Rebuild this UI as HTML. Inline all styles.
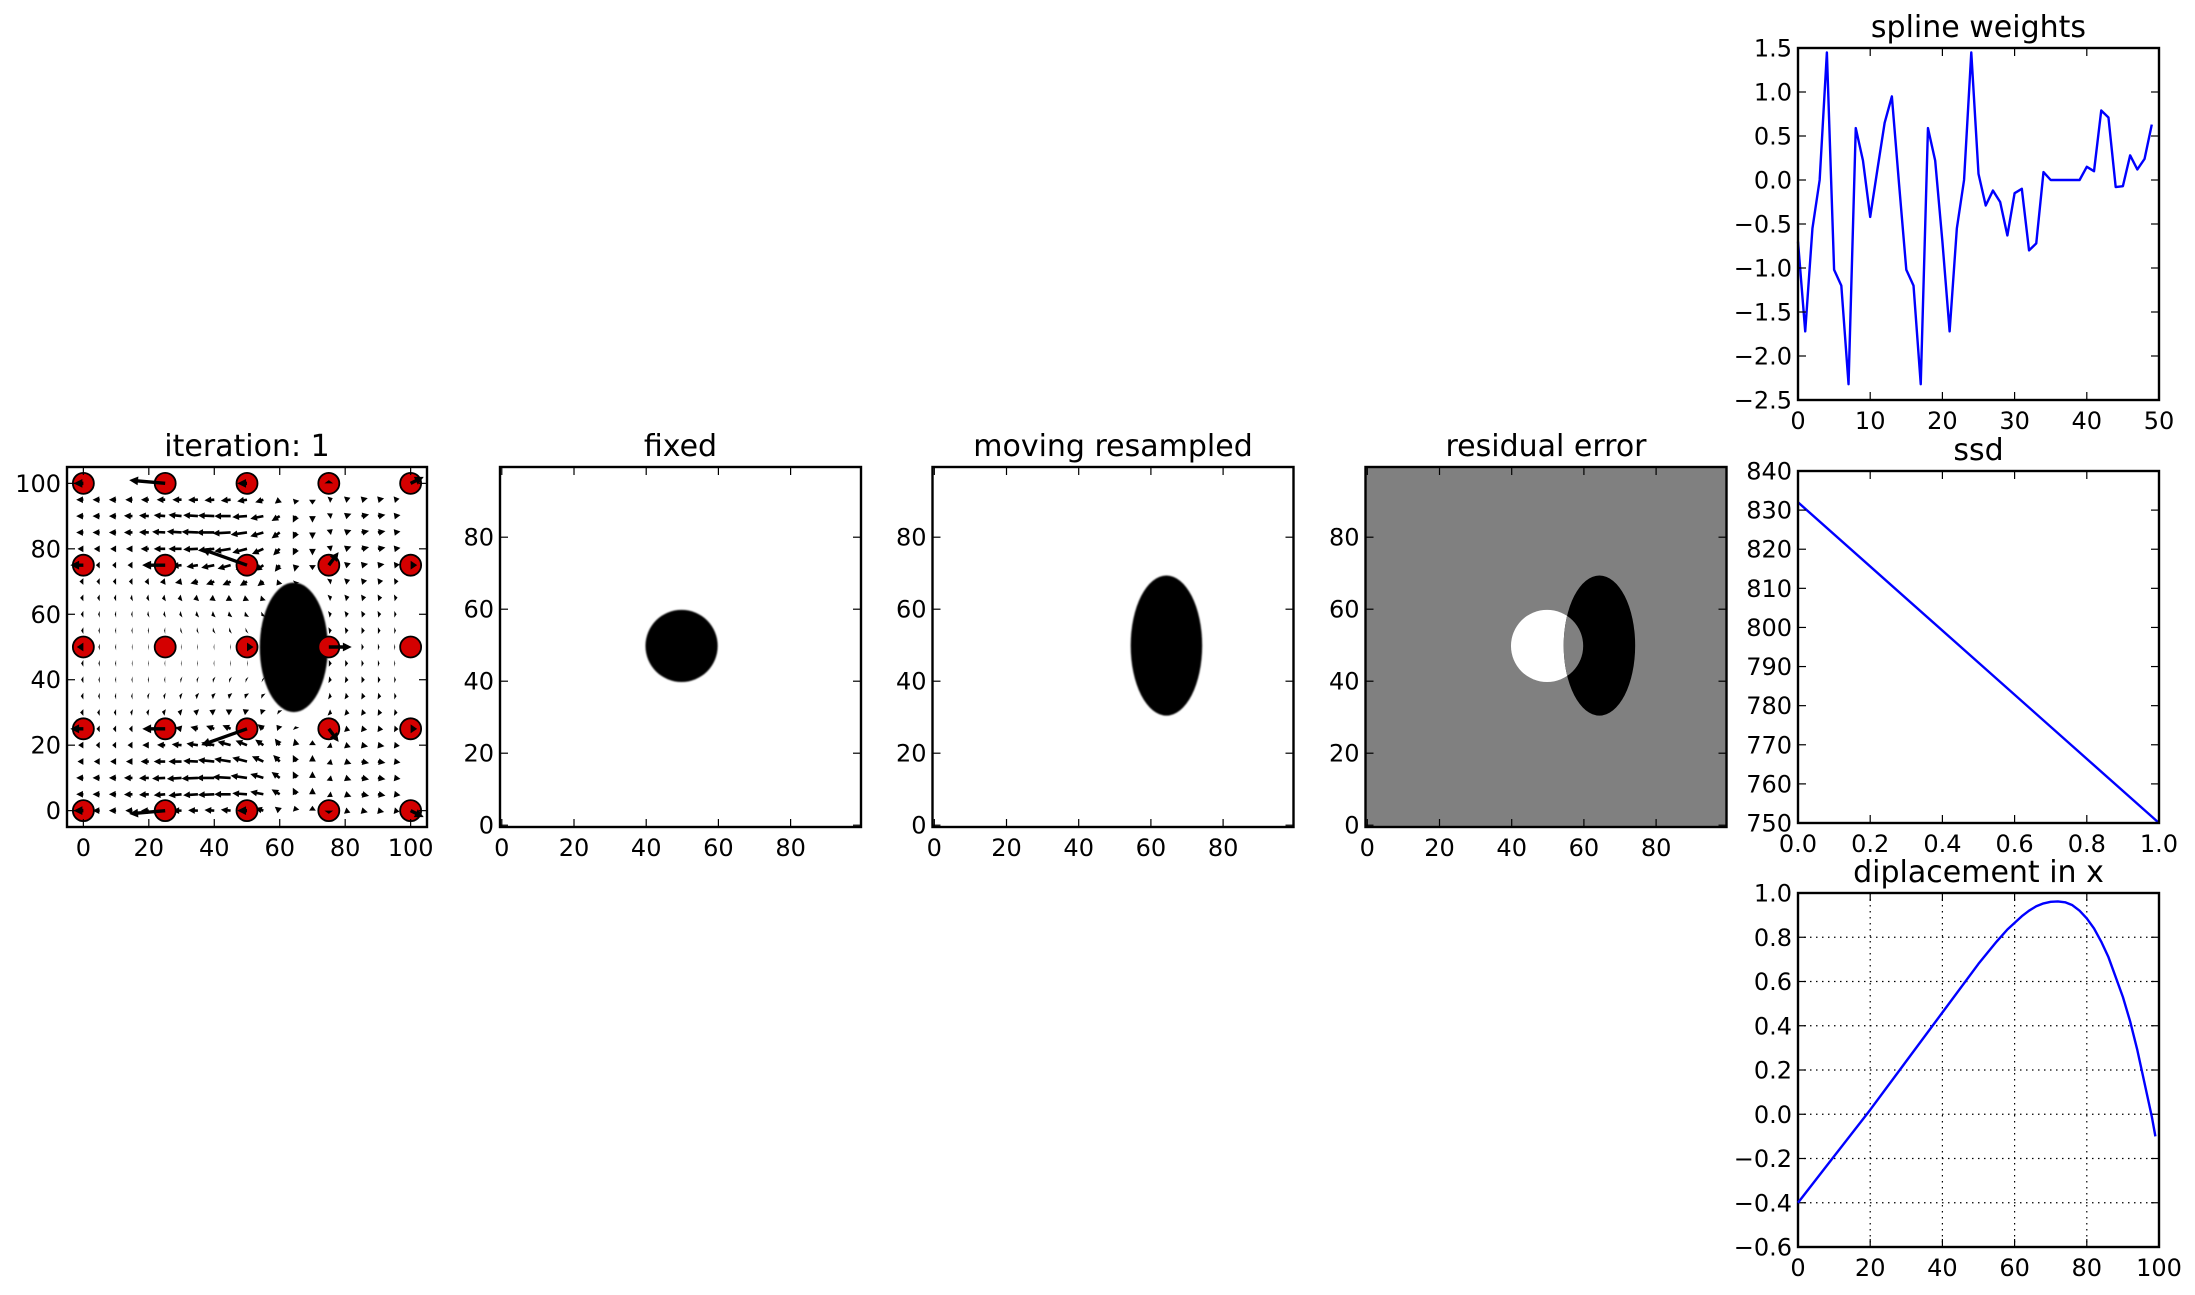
<!DOCTYPE html>
<html><head><meta charset="utf-8"><style>
html,body{margin:0;padding:0;background:#fff;}
svg{display:block;font-family:"DejaVu Sans","Liberation Sans",sans-serif;}
</style></head><body>
<svg id="fig" width="2195" height="1295" viewBox="0 0 2195 1295" xmlns="http://www.w3.org/2000/svg">
<rect width="2195" height="1295" fill="#fff"/>
<defs>
<clipPath id="clipIter"><rect x="67" y="467" width="360" height="360"/></clipPath>
<clipPath id="clipEll"><ellipse id="ellClipShape" cx="0" cy="0" rx="1" ry="1"/></clipPath>
<filter id="soft" x="-10%" y="-10%" width="120%" height="120%"><feGaussianBlur stdDeviation="0.9"/></filter>
</defs>
</svg>
<script>
// ---- spline weights data ----
const splineWeights = [-0.7,-1.72,-0.55,0.0,1.45,-1.02,-1.2,-2.32,0.59,0.22,-0.42,0.12,0.65,0.95,-0.05,-1.02,-1.2,-2.32,0.59,0.22,-0.7,-1.72,-0.55,0.0,1.45,0.07,-0.29,-0.12,-0.25,-0.63,-0.15,-0.1,-0.8,-0.72,0.09,0.0,0.0,0.0,0.0,0.0,0.15,0.1,0.79,0.71,-0.08,-0.07,0.28,0.12,0.24,0.63];
const splineXTicks = [0,10,20,30,40,50];
const splineYTicks = [-2.5,-2.0,-1.5,-1.0,-0.5,0.0,0.5,1.0,1.5];
// ---- ssd data ----
const ssdX = [0,1];
const ssdValues = [832,750];
const ssdXTicks = [0.0,0.2,0.4,0.6,0.8,1.0];
const ssdYTicks = [750,760,770,780,790,800,810,820,830,840];
// ---- displacement data ----
const dispX = [0,10,20,30,40,50,55,58,60,62,64,66,68,70,72,74,76,78,80,82,84,86,88,90,92,94,96,98,99];
const dispValues = [-0.4,-0.19,0.02,0.24,0.46,0.68,0.78,0.835,0.865,0.895,0.92,0.94,0.953,0.96,0.962,0.958,0.945,0.92,0.885,0.84,0.78,0.71,0.62,0.53,0.42,0.29,0.14,-0.01,-0.1];
const dispXTicks = [0,20,40,60,80,100];
const dispYTicks = [-0.6,-0.4,-0.2,0.0,0.2,0.4,0.6,0.8,1.0];
// ---- image panels ----
const imgTicks = [0,20,40,60,80];
const fixedCircle = [49.8,49.8,10];
const movingEllipse = [64.3,49.9,9.9,19.4];
// ---- iteration panel ----
const iterTicks = [0,20,40,60,80,100];
const ctrlX = [0,25,50,75,100];
const ctrlY = [0,25,50,75,100];
const ctrlDX = [[-3,-11,-3,0,4],[-4,-7,-14,3,2],[-2,0,2,7,0],[-4,-7,-14,3,2],[-3,-11,-3,0,4]];
const ctrlDY = [[0,1,0,1,2],[0,0,5,4,0],[0,0,0,0,0],[0,0,-5,-4,0],[0,-1,0,-1,-2]];
const quiverCols = [0,5,10,15,20,25,30,35,40,45,50,55,60,65,70,75,80,85,90,95];
const quiverRowsTop = [95,90,85,80,75,70,65,60,55,50];
const quiverRowsBottom = [45,40,35,30,25,20,15,10,5,0];
const quiverDX = [
[-2.2,-2.2,-2.2,-2.2,-2.4,-2.6,-2.8,-3,-3,-3,-3,-2.5,-1.5,-0.5,0,1.2,1.6,1.9,1.9,1.6],
[-2.2,-2.2,-2.2,-2.6,-3,-3.5,-4,-4.5,-5,-5,-4.5,-4,-2.5,-1,0,1.2,1.9,2.3,2.3,1.9],
[-2.2,-2.2,-2.2,-2.6,-3,-4,-4.5,-5,-5.5,-5.5,-5,-4,-2.5,-1,0,1.2,1.9,2.3,2.3,1.9],
[-1.8,-1.8,-1.8,-2,-2.5,-3.5,-4,-4.5,-5,-5,-4.5,-3.5,-2,-1,0,1.2,1.9,2.3,2.3,1.9],
[-1.6,-1.2,-1.2,-1.5,-2,-2.5,-3,-3.5,-4,-4,-3.5,-2.5,-1.5,-0.5,0,1.1,1.7,2,2,1.7],
[-1.2,-1,-1,-1.1,-1.3,-1.6,-2,-2.3,-2.5,-2.5,-2.2,-1.8,-1,-0.3,0,1,1.5,1.7,1.6,1.3],
[-1,-0.8,-0.7,-0.7,-0.8,-1,-1.2,-1.4,-1.5,-1.5,-1.3,-1,-0.5,0,0,1,1.3,1.4,1.3,1],
[-0.8,-0.5,-0.4,-0.4,-0.5,-0.6,-0.7,-0.8,-0.9,-0.9,-0.8,-0.6,0,0,0,0.9,1.1,1.2,1,0.7],
[-0.7,-0.4,-0.3,-0.3,-0.3,-0.3,-0.4,-0.4,-0.5,-0.5,-0.4,-0.3,0,0,0,0.9,1,1,0.8,0.5],
[-0.7,-0.4,-0.3,-0.2,-0.2,-0.2,-0.2,-0.2,-0.2,-0.2,0.2,0.3,0,0,0,0.9,0.9,0.7,0.5,0.3]];
const quiverDY = [
[0,0,0,0,0,0,0,-0.1,-0.2,-0.3,-0.5,-0.8,-1.2,-1.5,-1.5,0.5,0.6,0.5,0.4,0.3],
[0,0,0,0.1,0.2,0.3,0.4,0.3,0.2,0,-0.3,-0.8,-1.5,-2,-2,0.8,0.7,0.5,0.4,0.3],
[0,0,0,0,0.1,0.2,0.3,0.2,0,-0.3,-0.7,-1.2,-1.8,-2,-2,1,0.7,0.5,0.4,0.3],
[0,0,0,0,0,0,0,-0.2,-0.5,-0.8,-1.2,-1.6,-2,-2,-2,1,0.7,0.5,0.4,0.3],
[0,0,0,0,0,-0.1,-0.3,-0.5,-0.8,-1.1,-1.4,-1.7,-2,-2,-1.5,0.8,0.6,0.4,0.3,0.2],
[0,0,0,0,-0.1,-0.2,-0.4,-0.6,-0.9,-1.1,-1.3,-1.4,-1.2,-0.8,0,0.6,0.5,0.3,0.2,0.1],
[0,0,0,-0.1,-0.1,-0.2,-0.3,-0.5,-0.7,-0.9,-1,-1,-0.6,0,0,0.4,0.3,0.2,0.1,0.1],
[0,0,0,0,-0.1,-0.1,-0.2,-0.3,-0.4,-0.5,-0.6,-0.5,0,0,0,0.2,0.2,0.1,0.1,0],
[0,0,0,0,0,0,-0.1,-0.1,-0.2,-0.2,-0.2,-0.2,0,0,0,0.1,0.1,0,0,0],
[0,0,0,0,0,0,0,0,0,0,0,0,0,0,0,0,0,0,0,0]];

const NS = "http://www.w3.org/2000/svg";
const svg = document.getElementById('fig');
function el(tag, attrs, parent) {
  const e = document.createElementNS(NS, tag);
  for (const k in attrs) e.setAttribute(k, attrs[k]);
  (parent || svg).appendChild(e);
  return e;
}
function fmtNum(v, dec) {
  const s = Math.abs(v).toFixed(dec);
  return (v < 0 && parseFloat(s) !== 0 ? "\u2212" : "") + s;
}
function makeScale(d0, d1, p0, p1) { return v => p0 + (v - d0) / (d1 - d0) * (p1 - p0); }

function drawFrame(name, L, T, R, B, xs, ys, xticks, yticks, dec, grid) {
  const g = el('g', {});
  
  
  xticks.forEach(t => {
    const x = xs(t);
    if (grid) {
      const gl = el('line', {x1:x, y1:T, x2:x, y2:B, stroke:'#000', 'stroke-width':1.2, 'stroke-dasharray':'1.5,4.5'}, g);
      
      
    }
    el('line', {x1:x, y1:B, x2:x, y2:B-8, stroke:'#000', 'stroke-width':1.2}, g);
    el('line', {x1:x, y1:T, x2:x, y2:T+8, stroke:'#000', 'stroke-width':1.2}, g);
    const tx = el('text', {x:x, y:B+29, 'font-size':24, 'text-anchor':'middle', fill:'#000'}, g);
    tx.textContent = fmtNum(t, dec[0]);
    
    
  });
  yticks.forEach(t => {
    const y = ys(t);
    if (grid) {
      const gl = el('line', {x1:L, y1:y, x2:R, y2:y, stroke:'#000', 'stroke-width':1.2, 'stroke-dasharray':'1.5,4.5'}, g);
      
      
    }
    el('line', {x1:L, y1:y, x2:L+8, y2:y, stroke:'#000', 'stroke-width':1.2}, g);
    el('line', {x1:R, y1:y, x2:R-8, y2:y, stroke:'#000', 'stroke-width':1.2}, g);
    const ty = el('text', {x:L-6, y:y+8.5, 'font-size':24, 'text-anchor':'end', fill:'#000'}, g);
    ty.textContent = fmtNum(t, dec[1]);
    
    
  });
  const fr = el('rect', {x:L, y:T, width:R-L, height:B-T, fill:'none', stroke:'#000', 'stroke-width':2.4}, g);
  
  
}
function title(name, txt, L, R, T) {
  const t = el('text', {x:(L+R)/2, y:T-11, 'font-size':30, 'text-anchor':'middle', fill:'#000'});
  t.textContent = txt;
  
  
}
function line(name, xsArr, ysArr, xs, ys) {
  const pts = xsArr.map((x, i) => xs(x).toFixed(2) + ',' + ys(ysArr[i]).toFixed(2)).join(' ');
  const p = el('polyline', {points:pts, fill:'none', stroke:'#0000ff', 'stroke-width':2.4, 'stroke-linejoin':'round'});
  
  
}

(function(){
  const L=1798,T=48,R=2159,B=400;
  const xs = makeScale(0,50,L,R), ys = makeScale(-2.5,1.5,B,T);
  title('spline-weights','spline weights',L,R,T);
  line('spline-weights-line', splineWeights.map((_,i)=>i), splineWeights, xs, ys);
  drawFrame('spline-weights', L,T,R,B, xs, ys, splineXTicks, splineYTicks, [0,1], false);
})();
(function(){
  const L=1798,T=471,R=2159,B=823;
  const xs = makeScale(0,1,L,R), ys = makeScale(750,840,B,T);
  title('ssd','ssd',L,R,T);
  line('ssd-line', ssdX, ssdValues, xs, ys);
  drawFrame('ssd', L,T,R,B, xs, ys, ssdXTicks, ssdYTicks, [1,0], false);
})();
(function(){
  const L=1798,T=893,R=2159,B=1247;
  const xs = makeScale(0,100,L,R), ys = makeScale(-0.6,1.0,B,T);
  title('displacement','diplacement in x',L,R,T);
  drawFrame('displacement', L,T,R,B, xs, ys, dispXTicks, dispYTicks, [0,1], true);
  line('displacement-line', dispX, dispValues, xs, ys);
})();

function imgPanel(name, txt, L, kind) {
  const T=467, B=827, R=L+361;
  const xs = makeScale(-0.5,99.5,L,R), ys = makeScale(-0.5,99.5,B,T);
  title(name, txt, L, R, T);
  const g = el('g', {});
  
  
  const k = (R-L)/100;
  if (kind === 'fixed') {
    el('circle', {cx:xs(fixedCircle[0]), cy:ys(fixedCircle[1]), r:fixedCircle[2]*k, fill:'#000', filter:'url(#soft)'}, g);
  } else if (kind === 'moving') {
    el('ellipse', {cx:xs(movingEllipse[0]), cy:ys(movingEllipse[1]), rx:movingEllipse[2]*k, ry:movingEllipse[3]*k, fill:'#000', filter:'url(#soft)'}, g);
  } else {
    el('rect', {x:L, y:T, width:R-L, height:B-T, fill:'#808080'}, g);
    el('circle', {cx:xs(fixedCircle[0]), cy:ys(fixedCircle[1]), r:fixedCircle[2]*k, fill:'#fff'}, g);
    el('ellipse', {cx:xs(movingEllipse[0]), cy:ys(movingEllipse[1]), rx:movingEllipse[2]*k, ry:movingEllipse[3]*k, fill:'#000'}, g);
    const cs = document.getElementById('ellClipShape');
    cs.setAttribute('cx', xs(movingEllipse[0])); cs.setAttribute('cy', ys(movingEllipse[1]));
    cs.setAttribute('rx', movingEllipse[2]*k); cs.setAttribute('ry', movingEllipse[3]*k);
    el('circle', {cx:xs(fixedCircle[0]), cy:ys(fixedCircle[1]), r:fixedCircle[2]*k, fill:'#808080', 'clip-path':'url(#clipEll)'}, g);
  }
  drawFrame(name, L,T,R,B, xs, ys, imgTicks, imgTicks, [0,0], false);
}
imgPanel('fixed','fixed',500,'fixed');
imgPanel('moving-resampled','moving resampled',932.5,'moving');
imgPanel('residual-error','residual error',1365.5,'residual');

(function(){
  const L=67,T=467,R=427,B=827;
  const xs = makeScale(-5,105,L,R), ys = makeScale(-5,105,B,T);
  const k = (R-L)/110;
  title('iteration','iteration: 1',L,R,T);
  const clipG = el('g', {'clip-path':'url(#clipIter)'});
  
  
  function arrow(x, y, dx, dy, w, parent, name) {
    const x0 = xs(x), y0 = ys(y), x1 = xs(x+dx), y1 = ys(y+dy);
    const len = Math.hypot(x1-x0, y1-y0);
    if (len < 0.5) return;
    const ux = (x1-x0)/len, uy = (y1-y0)/len, px = -uy, py = ux;
    const hl = Math.min(len, w*2.6), hw = w*1.3;
    const bx = x1 - ux*hl, by = y1 - uy*hl;
    const d = `M${x0+px*w/2},${y0+py*w/2} L${bx+px*w/2},${by+py*w/2} L${bx+px*hw},${by+py*hw} L${x1},${y1} L${bx-px*hw},${by-py*hw} L${bx-px*w/2},${by-py*w/2} L${x0-px*w/2},${y0-py*w/2} Z`;
    const a = el('path', {d:d, fill:'#000'}, parent);
    
    
  }
  const qg = el('g', {}, clipG);
  
  
  quiverRowsTop.forEach((y, r) => {
    quiverCols.forEach((x, c) => arrow(x, y, quiverDX[r][c], quiverDY[r][c], 2.6, qg, 'quiver-arrow'));
  });
  quiverRowsBottom.forEach((y, r) => {
    const src = quiverRowsTop.length - 1 - r;
    quiverCols.forEach((x, c) => arrow(x, y, quiverDX[src][c], -quiverDY[src][c], 2.6, qg, 'quiver-arrow'));
  });
  const e = el('ellipse', {cx:xs(movingEllipse[0]), cy:ys(movingEllipse[1]), rx:movingEllipse[2]*k*1.05, ry:movingEllipse[3]*k*1.02, fill:'#000', filter:'url(#soft)'}, clipG);
  
  
  ctrlY.forEach((cy, ri) => {
    const row = ctrlY.length - 1 - ri;
    ctrlX.forEach((cx, ci) => {
      const c = el('circle', {cx:xs(cx), cy:ys(cy), r:10.5, fill:'#d40000', stroke:'#000', 'stroke-width':1.8}, clipG);
      
      
      arrow(cx, cy, ctrlDX[row][ci], ctrlDY[row][ci], 3.4, clipG, 'control-point-arrow');
    });
  });
  drawFrame('iteration', L,T,R,B, xs, ys, iterTicks, iterTicks, [0,0], false);
})();
</script>
</body></html>
